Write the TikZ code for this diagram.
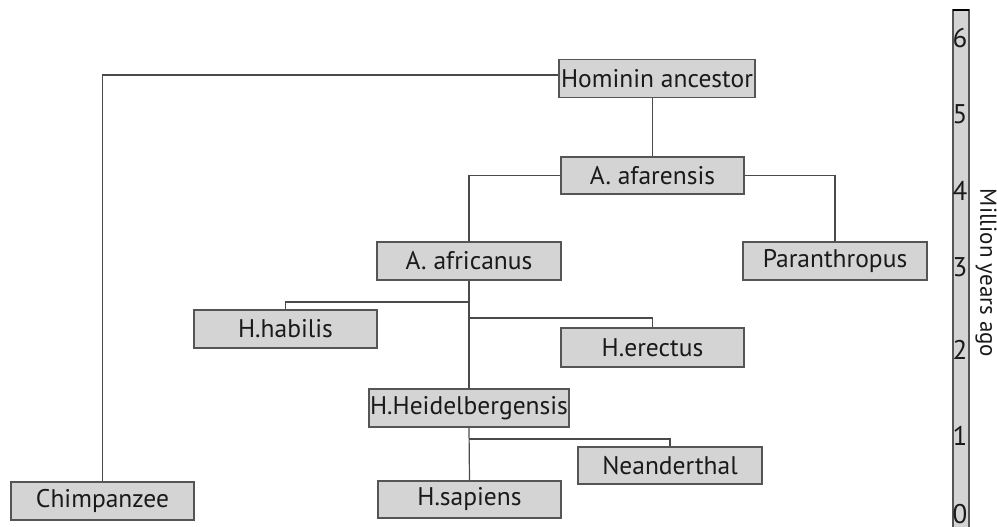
\documentclass[tikz,border=0pt]{standalone}
\usepackage{fontspec}
\setmainfont{PT Sans}
\definecolor{boxfill}{HTML}{D4D4D4}
\definecolor{boxline}{HTML}{555555}
\definecolor{conn}{HTML}{4A4A4A}
\definecolor{txt}{HTML}{1A1A1A}
\tikzset{
  taxon/.style={draw=boxline, line width=1.3pt, fill=boxfill, inner sep=0pt,
    text=txt, font=\fontsize{25.5}{25.5}\selectfont, minimum height=38pt},
  link/.style={draw=conn, line width=1.2pt},
  tick/.style={text=txt, font=\fontsize{27}{27}\selectfont, inner sep=0pt}
}
\begin{document}
\begin{tikzpicture}[x=1pt, y=-1pt]
\useasboundingbox (0,0) rectangle (997,527);
% scale bar
\fill[boxfill] (953,10) rectangle (969,530);
\draw[boxline, line width=1.2pt] (953,530) -- (953,10) -- (969,10) -- (969,530);
\draw[black, line width=1.6pt] (953,10) -- (969,10);
\foreach \v/\y in {6/38,5/114,4/191,3/267,2/350,1/436,0/514}
  \node[tick] (t\v) at (960,\y) {\v};
\node[text=txt, font=\fontsize{23}{23}\selectfont, rotate=-90] (axis) at (986,273) {Million years ago};
% boxes
\node[taxon, minimum width=196pt] (ha) at (657,78.5) {Hominin ancestor};
\node[taxon, minimum width=183pt, minimum height=37pt] (af) at (652.5,175.5) {A. afarensis};
\node[taxon, minimum width=183pt] (chimp) at (102.5,501) {Chimpanzee};
\node[taxon, minimum width=184pt] (afr) at (469,261) {A. africanus};
\node[taxon, minimum width=184pt] (par) at (835,261) {Paranthropus};
\node[taxon, minimum width=183pt] (hab) at (285.5,329) {H.habilis};
\node[taxon, minimum width=183pt, minimum height=39pt] (ere) at (652.5,347.5) {H.erectus};
\node[taxon, minimum width=200pt] (hei) at (469,408) {H.Heidelbergensis};
\node[taxon, minimum width=184pt, minimum height=37pt] (nea) at (670,465.5) {Neanderthal};
\node[taxon, minimum width=183pt, minimum height=37pt] (sap) at (469.5,499.5) {H.sapiens};
% junctions
\coordinate (jhab) at (469,302);
\coordinate (jere) at (469,318);
\coordinate (jnea) at (469,439);
% connectors
\draw[link] ([yshift=3.5pt]ha.west) -| (chimp.north);
\draw[link] (af.north |- ha.south) -- (af.north);
\draw[link] (af.west) -| (afr.north);
\draw[link] (af.east) -| (par.north);
\draw[link] (afr.south) -- (hei.north);
\draw[link] (jhab) -| (hab.north);
\draw[link] (jere) -| (ere.north);
\draw[link] (hei.south) -- (sap.north);
\draw[link] (jnea) -| (nea.north);
\end{tikzpicture}
\end{document}
